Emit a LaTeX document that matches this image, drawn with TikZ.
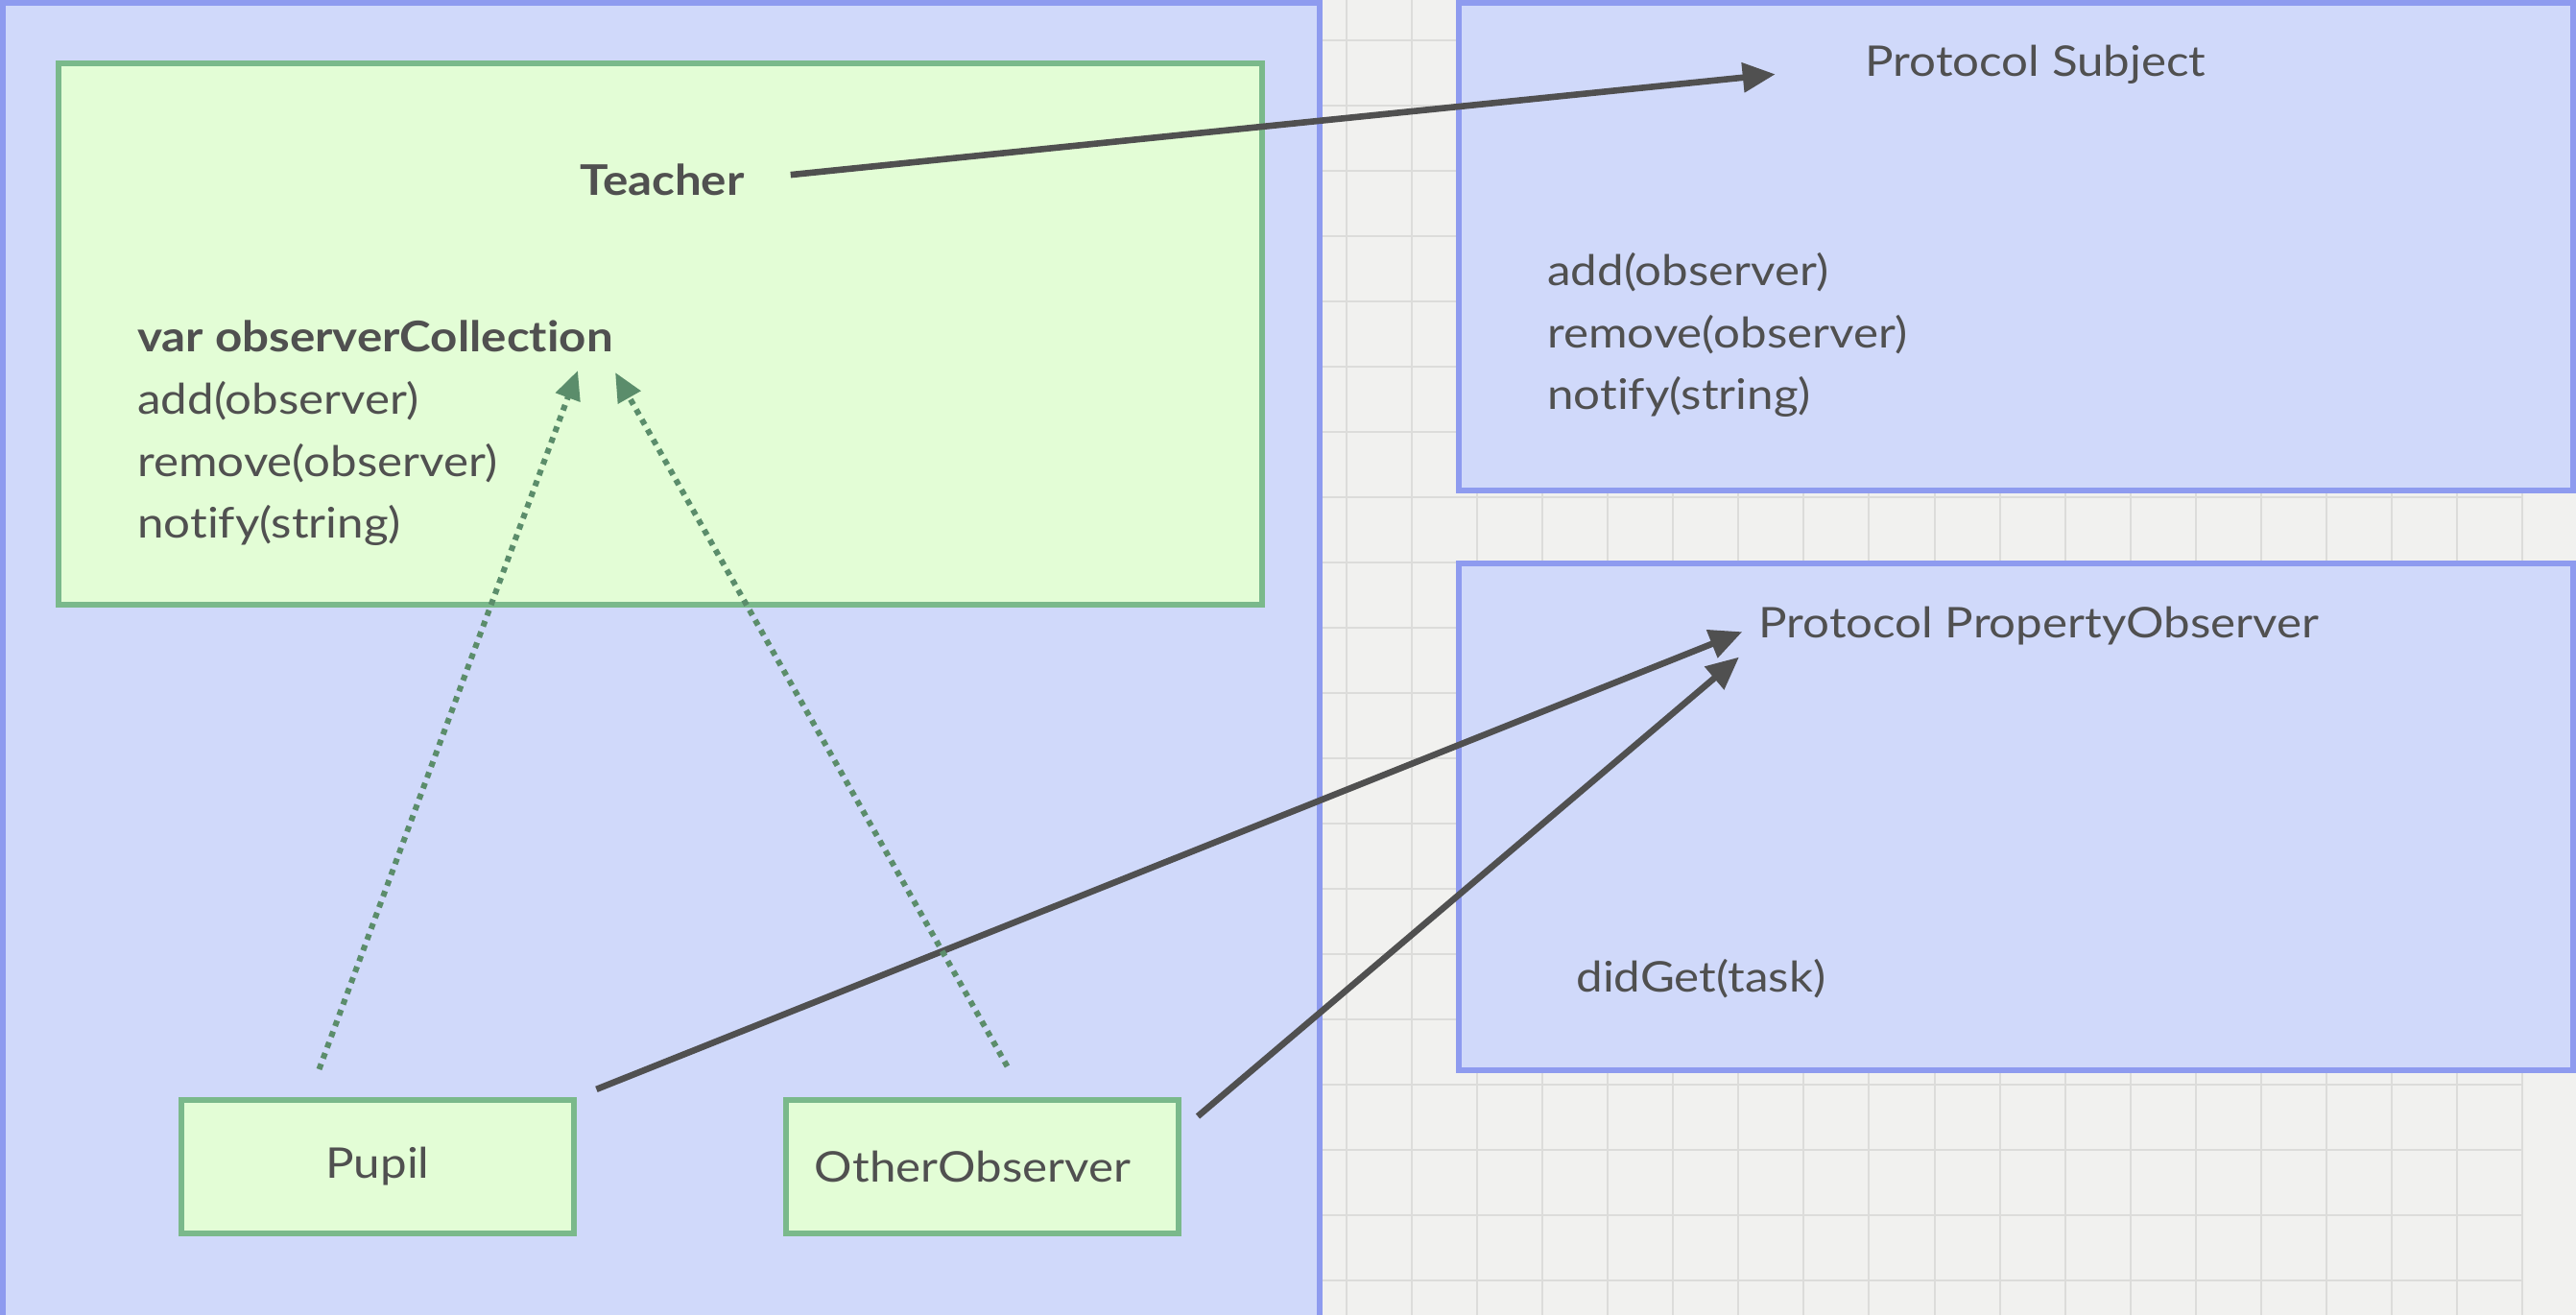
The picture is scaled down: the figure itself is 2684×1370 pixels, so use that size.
\documentclass[tikz,border=0pt]{standalone}
\usepackage{fontspec}
\setmainfont{Lato}[FakeStretch=1.12,Ligatures=NoCommon]
\usetikzlibrary{arrows.meta,calc}
\definecolor{bgc}{HTML}{F1F1EF}
\definecolor{gridc}{HTML}{DCDCDA}
\definecolor{bluefill}{HTML}{D0D9FA}
\definecolor{blueline}{HTML}{8E9BEF}
\definecolor{greenfill}{HTML}{E3FDD6}
\definecolor{greenline}{HTML}{7AB98B}
\definecolor{dotc}{HTML}{5B8D6B}
\definecolor{txt}{HTML}{505050}
\definecolor{arrc}{HTML}{505050}
\begin{document}
\begin{tikzpicture}[x=0.5pt,y=-0.5pt,
  panel/.style={draw=blueline,fill=bluefill,line width=3pt,inner sep=0pt,rectangle},
  gbox/.style={draw=greenline,fill=greenfill,line width=3pt,inner sep=0pt,rectangle,text=txt,font=\fontsize{22}{26}\selectfont},
  lbl/.style={inner sep=0pt,text=txt,font=\fontsize{22}{26}\selectfont},
  blbl/.style={inner sep=0pt,text=txt,font=\fontsize{22}{26}\selectfont\bfseries},
  darr/.style={draw=arrc,line width=3.3pt,-{Triangle[length=17pt,width=15pt]}},
  garr/.style={draw=dotc,line width=3pt,dash pattern=on 3pt off 3pt,-{Triangle[length=15pt,width=13pt]}}]
\useasboundingbox (0,0) rectangle (2684,1370);
\fill[bgc] (0,0) rectangle (2684,1370);
\foreach \i in {0,...,18} \draw[gridc,line width=1pt] ({1403+68.06*\i},0) -- ({1403+68.06*\i},1370);
\foreach \j in {0,...,19} \draw[gridc,line width=1pt] (1378,{42+68*\j}) -- (2628,{42+68*\j});

\node[panel,minimum width=686pt,minimum height=693.5pt] (leftpanel) at (689,696.5) {};
\node[panel,minimum width=580.5pt,minimum height=254pt] (subjpanel) at (2100.5,257) {};
\node[panel,minimum width=580.5pt,minimum height=264pt] (popanel) at (2100.5,851) {};

\node[gbox,minimum width=627pt,minimum height=282pt] (teacherbox) at (688,348) {};
\node[gbox,minimum width=204.5pt,minimum height=69.5pt] (pupil) at (393.5,1215.5) {Pupil};
\node[gbox,minimum width=204.5pt,minimum height=69.5pt,text width=190pt,align=center] (other) at (1023.5,1215.5) {\hspace*{-10pt}OtherObserver};

\node[blbl] (teacherlbl) at (690,187) {Teacher};
\node[blbl,anchor=base west] (varlbl) at (143,366) {var observerCollection};
\node[lbl,anchor=base west] (tadd) at (143,431) {add(observer)};
\node[lbl,anchor=base west] (tremove) at (143,496) {remove(observer)};
\node[lbl,anchor=base west] (tnotify) at (143,560) {notify(string)};

\node[lbl,anchor=base] (subjlbl) at (2121,80) {Protocol Subject};
\node[lbl,anchor=base west] (sadd) at (1612,297) {add(observer)};
\node[lbl,anchor=base west] (sremove) at (1612,362) {remove(observer)};
\node[lbl,anchor=base west] (snotify) at (1612,426) {notify(string)};

\node[lbl,anchor=base west] (polbl) at (1832,664) {Protocol PropertyObserver};
\node[lbl,anchor=base west] (didget) at (1642,1033) {didGet(task)};

\draw[darr,shorten <=24pt,shorten >=47pt] (teacherlbl.east) -- (subjlbl.west);
\draw[darr,shorten <=11pt,shorten >=9pt] (pupil.north east) -- (polbl.west);
\draw[darr] ($(other.north east)+(17,20)$) -- ($(polbl.west)+(-20,33)$);

\draw[garr] ($(pupil.north)+(-61,-29)$) -- ($(varlbl.base east)+(-37,20)$);
\draw[garr] ($(other.north)+(26,-32)$) -- ($(varlbl.base east)+(2,22)$);
\end{tikzpicture}
\end{document}
